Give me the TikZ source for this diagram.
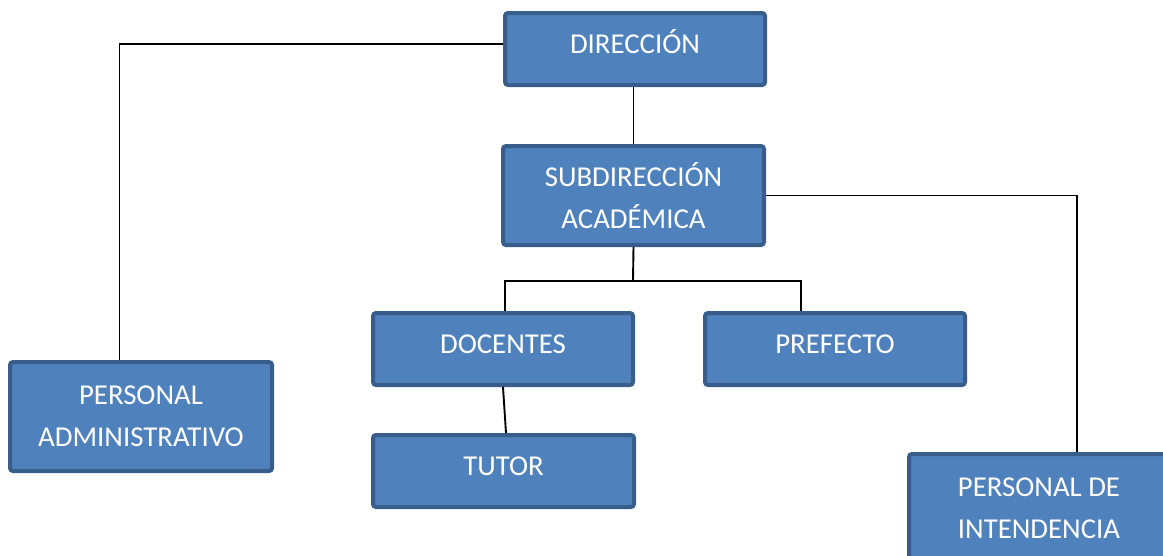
\documentclass[tikz,border=0pt]{standalone}
\usepackage{fontspec}
\setmainfont{Carlito}
\definecolor{boxfill}{HTML}{4F81BD}
\definecolor{boxline}{HTML}{385D8A}
\begin{document}
\begin{tikzpicture}[x=1pt,y=-1pt,
  orgbox/.style={draw=boxline, line width=4pt, fill=boxfill, rounded corners=3pt,
    inner sep=0pt, text=white, align=center, minimum width=260pt, minimum height=72pt,
    font=\fontsize{28.8}{42}\selectfont},
  oneline/.style={text height=19pt, text depth=10.6pt},
  link/.style={draw=black, line width=1.9pt}]
\useasboundingbox (0,0) rectangle (1163,555);
\clip (0,0) rectangle (1163,555);
\node[orgbox, oneline] (dir) at (635,49) {DIRECCIÓN};
\node[orgbox, minimum width=261pt, minimum height=99pt] (sub) at (633.5,195.5) {SUBDIRECCIÓN\\ACADÉMICA};
\node[orgbox, oneline] (doc) at (503,349) {DOCENTES};
\node[orgbox, oneline] (pre) at (835,349) {PREFECTO};
\node[orgbox, oneline, minimum width=261pt] (tut) at (503.5,471) {TUTOR};
\node[orgbox, minimum width=262pt, minimum height=109pt] (pa) at (141,416.5) {PERSONAL\\ADMINISTRATIVO};
\node[orgbox, minimum height=109pt] (pdi) at (1039,508.5) {PERSONAL DE\\INTENDENCIA};
\coordinate (bus) at (633,280.7);
\draw[link] ([yshift=5pt]dir.west) -| ([xshift=-21.5pt]pa.north);
\draw[link] (sub.north |- dir.south) -- (sub.north);
\draw[link] (sub.east) -| ([xshift=38pt]pdi.north);
\draw[link] (sub.south) -- (bus);
\draw[link] ([xshift=1.7pt]doc.north) |- ([xshift=-34pt]pre.north |- bus) -- ([xshift=-34pt]pre.north);
\draw[link] (doc.south) -- ([xshift=2.5pt]tut.north);
\end{tikzpicture}
\end{document}
